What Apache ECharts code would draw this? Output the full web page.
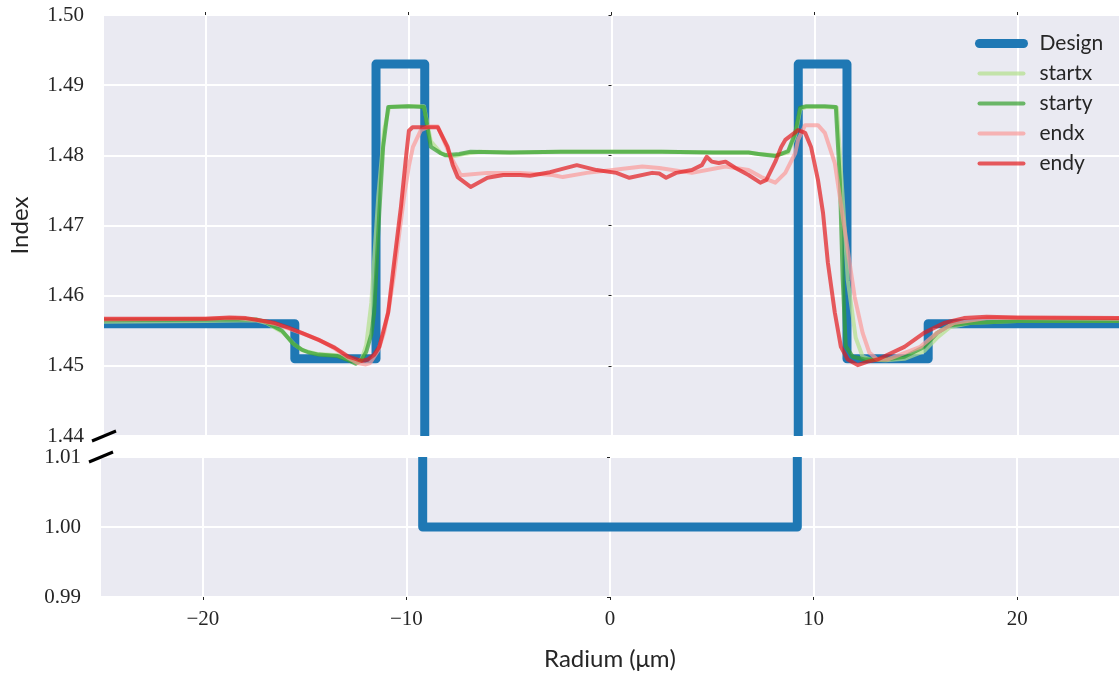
<!DOCTYPE html>
<html>
<head>
<meta charset="utf-8">
<script src="https://cdn.jsdelivr.net/npm/echarts@6/dist/echarts.min.js"></script>
<style>
  html, body { margin: 0; padding: 0; background: #ffffff; }
  #chart { width: 1119px; height: 683px; }
</style>
</head>
<body>
<div id="chart"></div>
<script>
// Refractive index profile across the fibre (radius in µm)
const xTicks = [-20, -10, 0, 10, 20];
const seriesNames = ['Design', 'startx', 'starty', 'endx', 'endy'];

// Designed step profile
const design = [
  [-25, 1.456], [-15.6, 1.456], [-15.6, 1.451], [-11.6, 1.451], [-11.6, 1.493],
  [-9.2, 1.493], [-9.2, 1.000], [9.2, 1.000], [9.2, 1.493], [11.6, 1.493],
  [11.6, 1.451], [15.6, 1.451], [15.6, 1.456], [25, 1.456]
];

// Measured profiles
const startx = [
  [-25, 1.4563], [-20, 1.4564], [-17.5, 1.4565], [-17.0, 1.4561], [-16.2, 1.4548],
  [-15.6, 1.4530], [-15.2, 1.4522], [-14.5, 1.4517], [-13.5, 1.4515], [-12.9, 1.4509],
  [-12.5, 1.4505], [-12.3, 1.4510], [-12.08, 1.4530], [-11.83, 1.4590], [-11.49, 1.4741],
  [-11.2, 1.4836], [-10.95, 1.4869], [-10.0, 1.4870], [-9.24, 1.4870], [-8.9, 1.4820],
  [-8.4, 1.4803], [-7.9, 1.4798], [-7.3, 1.4802], [-6.5, 1.4805], [-5, 1.4804],
  [-2.5, 1.4805], [0, 1.4805], [2.5, 1.4805], [5, 1.4804], [6.75, 1.4804],
  [7.24, 1.4802], [8.07, 1.4800], [8.7, 1.4804], [9.05, 1.4828], [9.3, 1.4866],
  [9.6, 1.4869], [10.5, 1.4869], [11.1, 1.4868], [11.39, 1.4740], [11.64, 1.4622],
  [12.03, 1.4540], [12.37, 1.4513], [12.76, 1.4509], [13.5, 1.4508], [14.43, 1.4510],
  [15.4, 1.4521], [16.04, 1.4540], [16.67, 1.4555], [17.65, 1.4561], [20, 1.4564],
  [25, 1.4564]
];

const starty = [
  [-25, 1.4565], [-20, 1.4566], [-17.5, 1.4566], [-17.07, 1.4563], [-16.23, 1.4550],
  [-15.7, 1.4532], [-15.26, 1.4523], [-14.91, 1.4519], [-14.43, 1.4516], [-13.5, 1.4514],
  [-12.96, 1.4508], [-12.6, 1.4503], [-12.32, 1.4508], [-12.08, 1.4520], [-11.83, 1.4545],
  [-11.69, 1.4576], [-11.44, 1.4718], [-11.25, 1.4812], [-11.0, 1.4869], [-10.0, 1.4870],
  [-9.24, 1.4869], [-8.9, 1.4812], [-8.41, 1.4803], [-8.17, 1.4800], [-7.5, 1.4802],
  [-6.94, 1.4805], [-5, 1.4804], [-2.5, 1.4805], [0, 1.4805], [2.5, 1.4805],
  [5, 1.4804], [6.75, 1.4804], [7.24, 1.4802], [8.07, 1.4799], [8.7, 1.4806],
  [9.05, 1.4832], [9.29, 1.4868], [9.6, 1.4870], [10.5, 1.4870], [11.05, 1.4869],
  [11.25, 1.4765], [11.39, 1.4623], [11.54, 1.4528], [11.88, 1.4513], [12.47, 1.4509],
  [13.5, 1.4509], [14.43, 1.4513], [15.4, 1.4527], [16.04, 1.4547], [16.67, 1.4558],
  [17.65, 1.4561], [20, 1.4564], [25, 1.4564]
];

const endx = [
  [-25, 1.4566], [-20, 1.4567], [-18.5, 1.4568], [-17.4, 1.4565], [-16.6, 1.4560],
  [-15.9, 1.4553], [-15.2, 1.4546], [-14.4, 1.4537], [-13.6, 1.4524], [-13.0, 1.4512],
  [-12.5, 1.4504], [-12.1, 1.4502], [-11.9, 1.4504], [-11.49, 1.4522], [-11.2, 1.4548],
  [-10.95, 1.4585], [-10.71, 1.4630], [-10.45, 1.4690], [-10.2, 1.4745], [-9.98, 1.4785],
  [-9.78, 1.4812], [-9.39, 1.4836], [-9.0, 1.4841], [-8.56, 1.4841], [-7.92, 1.4798],
  [-7.43, 1.4772], [-7.29, 1.4772], [-6.11, 1.4775], [-4.5, 1.4775], [-2.89, 1.4772],
  [-2.4, 1.4769], [-1.22, 1.4775], [0.05, 1.4779], [1.52, 1.4784], [2.35, 1.4782],
  [3.96, 1.4775], [5.62, 1.4784], [6.75, 1.4779], [7.38, 1.4769], [8.07, 1.4761],
  [8.56, 1.4775], [9.05, 1.4803], [9.19, 1.4822], [9.54, 1.4843], [10.17, 1.4843],
  [10.51, 1.4832], [11.0, 1.4789], [11.49, 1.4694], [11.98, 1.4598], [12.37, 1.4547],
  [12.7, 1.4519], [13.1, 1.4509], [13.59, 1.4509], [15.21, 1.4527], [16.04, 1.4547],
  [16.87, 1.4561], [18.48, 1.4568], [20, 1.4568], [25, 1.4567]
];

const endy = [
  [-25, 1.4567], [-20, 1.4567], [-18.83, 1.4569], [-18.0, 1.4568], [-17.36, 1.4565],
  [-16.58, 1.4561], [-15.89, 1.4554], [-15.26, 1.4547], [-14.43, 1.4537], [-13.64, 1.4526],
  [-12.96, 1.4513], [-12.32, 1.4507], [-12.0, 1.4509], [-11.69, 1.4516], [-11.44, 1.4527],
  [-11.0, 1.4576], [-10.71, 1.4647], [-10.37, 1.4727], [-10.12, 1.4798], [-9.98, 1.4835],
  [-9.8, 1.4840], [-8.56, 1.4840], [-8.07, 1.4812], [-7.82, 1.4786], [-7.58, 1.4769],
  [-6.94, 1.4755], [-6.11, 1.4768], [-5.33, 1.4772], [-4.5, 1.4772], [-4.01, 1.4771],
  [-3.03, 1.4776], [-1.71, 1.4786], [-0.73, 1.4779], [0.24, 1.4775], [0.88, 1.4768],
  [2.0, 1.4775], [2.35, 1.4774], [2.69, 1.4768], [3.18, 1.4775], [3.96, 1.4779],
  [4.45, 1.4786], [4.69, 1.4798], [4.94, 1.4791], [5.28, 1.4789], [5.62, 1.4791],
  [6.11, 1.4782], [6.75, 1.4772], [7.33, 1.4761], [7.63, 1.4765], [8.07, 1.4791],
  [8.36, 1.4812], [8.56, 1.4822], [9.19, 1.4836], [9.54, 1.4832], [9.83, 1.4812],
  [10.17, 1.4765], [10.42, 1.4718], [10.66, 1.4647], [11.0, 1.4576], [11.3, 1.4527],
  [11.64, 1.4509], [12.13, 1.4501], [12.62, 1.4506], [13.11, 1.4509], [14.43, 1.4527],
  [15.4, 1.4547], [16.38, 1.4561], [17.36, 1.4568], [18.48, 1.4570], [20, 1.4569],
  [25, 1.4568]
];

const colors = {
  Design: '#1f78b4',
  startx: '#b2df8a',
  starty: '#33a02c',
  endx: '#fb9a99',
  endy: '#e31a1c'
};

const BG = '#eaeaf2';
const TICK_FONT = { fontFamily: 'Liberation Serif', fontSize: 21, color: '#262626' };
const NAME_FONT = { fontFamily: 'Lato', fontSize: 24, color: '#262626' };

const chart = echarts.init(document.getElementById('chart'), null, { renderer: 'canvas' });

const minusFmt = v => (v < 0 ? '\u2212' + Math.abs(v) : String(v));

function measured(name, data) {
  return {
    name: name, type: 'line', xAxisIndex: 0, yAxisIndex: 0, data: data,
    symbol: 'none', showSymbol: false, clip: true, z: 3,
    lineStyle: { color: colors[name], width: 4, opacity: 0.7, cap: 'round', join: 'round' },
    itemStyle: { color: colors[name], opacity: 0.7 }
  };
}

const option = {
  animation: false,
  backgroundColor: '#ffffff',
  grid: [
    { left: 101, top: 15, width: 1022, height: 421, show: true, backgroundColor: BG, borderWidth: 0 },
    { left: 101, top: 457, width: 1022, height: 140, show: true, backgroundColor: BG, borderWidth: 0 }
  ],
  xAxis: [
    {
      gridIndex: 0, type: 'value', min: -25, max: 25, position: 'top',
      axisLine: { show: false },
      axisTick: { show: true, length: 3, customValues: xTicks, lineStyle: { color: '#222', width: 1 } },
      axisLabel: { show: false, customValues: xTicks },
      splitLine: { show: true, lineStyle: { color: '#ffffff', width: 2 } }
    },
    {
      gridIndex: 1, type: 'value', min: -25, max: 25, position: 'bottom',
      axisLine: { show: false },
      axisTick: { show: true, length: 3, customValues: xTicks, lineStyle: { color: '#222', width: 1 } },
      axisLabel: Object.assign({ show: true, customValues: xTicks, margin: 12, formatter: minusFmt }, TICK_FONT),
      splitLine: { show: true, lineStyle: { color: '#ffffff', width: 2 } },
      name: 'Radium (\u03bcm)', nameLocation: 'middle', nameGap: 50,
      nameTextStyle: NAME_FONT
    }
  ],
  yAxis: [
    {
      gridIndex: 0, type: 'value', min: 1.44, max: 1.50, interval: 0.01,
      axisLine: { show: false },
      axisTick: { show: true, length: 3, lineStyle: { color: '#222', width: 1 } },
      axisLabel: Object.assign({ margin: 20, formatter: v => v.toFixed(2) }, TICK_FONT),
      splitLine: { show: true, lineStyle: { color: '#ffffff', width: 2 } },
      name: 'Index', nameLocation: 'middle', nameGap: 72,
      nameTextStyle: NAME_FONT
    },
    {
      gridIndex: 1, type: 'value', min: 0.99, max: 1.01, interval: 0.01,
      axisLine: { show: false },
      axisTick: { show: true, length: 3, lineStyle: { color: '#222', width: 1 } },
      axisLabel: Object.assign({ margin: 20, formatter: v => v.toFixed(2) }, TICK_FONT),
      splitLine: { show: true, lineStyle: { color: '#ffffff', width: 2 } }
    }
  ],
  legend: {
    data: seriesNames,
    orient: 'vertical',
    left: 970, top: 28,
    itemWidth: 44, itemHeight: 14, itemGap: 9,
    textStyle: { fontFamily: 'Lato', fontSize: 21, color: '#262626', padding: [0, 0, 0, 11] },
    itemStyle: { opacity: 0 },
    lineStyle: { width: 'inherit', cap: 'round', opacity: 'inherit' }
  },
  series: [
    {
      name: 'Design', type: 'line', xAxisIndex: 0, yAxisIndex: 0, data: design,
      symbol: 'none', showSymbol: false, clip: true, z: 2,
      lineStyle: { color: colors.Design, width: 9, cap: 'round', join: 'round' },
      itemStyle: { color: colors.Design }
    },
    {
      name: 'Design', type: 'line', xAxisIndex: 1, yAxisIndex: 1, data: design,
      symbol: 'none', showSymbol: false, clip: true, z: 2,
      lineStyle: { color: colors.Design, width: 9, cap: 'round', join: 'round' },
      itemStyle: { color: colors.Design }
    },
    measured('startx', startx),
    measured('starty', starty),
    measured('endx', endx),
    measured('endy', endy)
  ]
};

chart.setOption(option);

// Axis-break decoration: white gap between the panels, trimmed plot edges and diagonal break marks
const p0 = chart.convertToPixel({ gridIndex: 0 }, [-25, 1.44]);
const p1 = chart.convertToPixel({ gridIndex: 1 }, [-25, 1.01]);
const pRight = chart.convertToPixel({ gridIndex: 0 }, [25, 1.44]);
const pEdgeTop = chart.convertToPixel({ gridIndex: 0 }, [-25, 1.459]);
const pEdgeBot = chart.convertToPixel({ gridIndex: 0 }, [-25, 1.4525]);

function breakMark(cx, cy) {
  return {
    type: 'line', z: 101, silent: true,
    shape: { x1: cx - 12, y1: cy + 5, x2: cx + 12, y2: cy - 5 },
    style: { stroke: '#000000', lineWidth: 3 }
  };
}

chart.setOption({
  graphic: [
    {
      type: 'rect', z: 100, silent: true,
      shape: { x: p0[0], y: p0[1], width: pRight[0] - p0[0] + 10, height: p1[1] - p0[1] },
      style: { fill: '#ffffff' }
    },
    {
      type: 'rect', z: 100, silent: true,
      shape: { x: p0[0] - 7, y: pEdgeTop[1], width: 7, height: pEdgeBot[1] - pEdgeTop[1] },
      style: { fill: '#ffffff' }
    },
    breakMark(p0[0], p0[1]),
    breakMark(p1[0], p1[1])
  ]
});
</script>
</body>
</html>
